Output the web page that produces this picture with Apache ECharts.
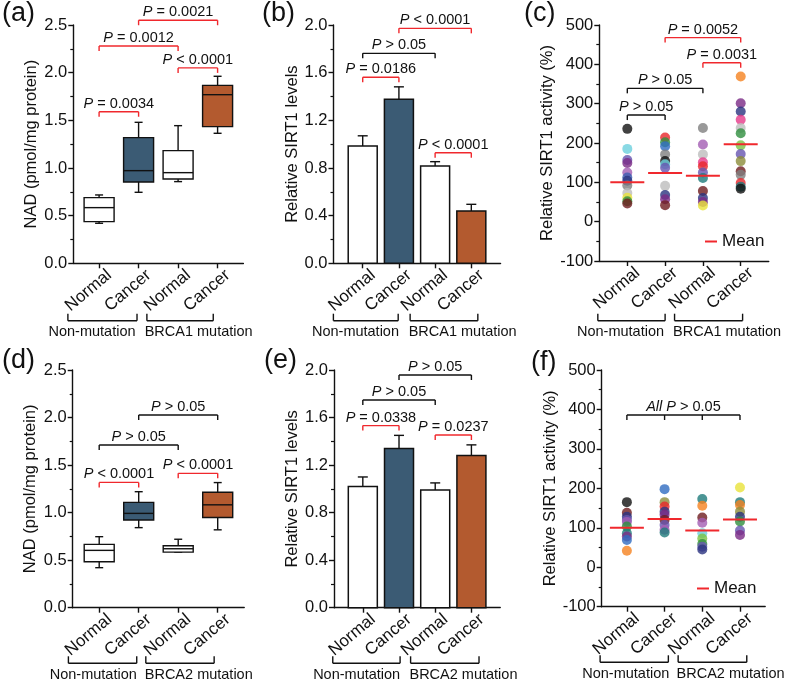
<!DOCTYPE html>
<html><head><meta charset="utf-8">
<script src="https://cdn.jsdelivr.net/npm/echarts@6/dist/echarts.min.js"></script>
<style>html,body{margin:0;padding:0;background:#fff}#c{width:790px;height:687px}</style>
</head><body><div id="c"></div>
<script>
// ---------- data ----------
const categories = ['Normal', 'Cancer', 'Normal', 'Cancer'];
const groupsBRCA1 = ['Non-mutation', 'BRCA1 mutation'];
const groupsBRCA2 = ['Non-mutation', 'BRCA2 mutation'];

// NAD box plots: [min, Q1, median, Q3, max]
const nadBRCA1 = [
  [0.42, 0.437, 0.584, 0.689, 0.717],
  [0.745, 0.853, 0.972, 1.318, 1.479],
  [0.857, 0.885, 0.951, 1.182, 1.444],
  [1.364, 1.434, 1.769, 1.867, 1.962]
];
const nadBRCA2 = [
  [0.421, 0.484, 0.603, 0.666, 0.747],
  [0.842, 0.922, 0.992, 1.108, 1.22],
  [0.585, 0.585, 0.62, 0.651, 0.72],
  [0.819, 0.949, 1.082, 1.215, 1.316]
];

// SIRT1 levels (mean, error)
const sirtBRCA1 = [0.985, 1.376, 0.817, 0.439];
const sirtBRCA1Err = [0.085, 0.105, 0.036, 0.056];
const sirtBRCA2 = [1.02, 1.34, 0.99, 1.28];
const sirtBRCA2Err = [0.08, 0.11, 0.06, 0.09];

// SIRT1 activity points (%)
const actBRCA1 = [
  [236, 185, 157, 149, 125, 112, 104, 92, 73, 61, 52, 46],
  [214, 202, 192, 171, 154, 146, 137, 91, 68, 57, 42],
  [238, 196, 171, 151, 141, 125, 111, 78, 60, 50, 41],
  [369, 301, 280, 259, 238, 225, 194, 172, 154, 128, 119, 98, 89, 84]
];
const actBRCA1Means = [100, 124, 117, 197];
const actBRCA2 = [
  [165, 138, 128, 120, 115, 103, 86, 78, 69, 42],
  [198, 165, 154, 141, 133, 120, 107, 95, 88],
  [173, 156, 126, 113, 86, 73, 59, 52, 45],
  [202, 165, 158, 141, 128, 116, 93, 82]
];
const actBRCA2Means = [100, 122, 93, 121];

// significance annotations: [from, to, y, label, colour]
const sigA = [[1, 2, 1.59, '{i|P} = 0.0034', 'r'], [1, 3, 2.28, '{i|P} = 0.0012', 'r'], [3, 4, 2.05, '{i|P} < 0.0001', 'r'], [2, 4, 2.55, '{i|P} = 0.0021', 'r']];
const sigB = [[1, 2, 1.561, '{i|P} = 0.0186', 'r'], [1, 3, 1.762, '{i|P} > 0.05', 'k'], [2, 4, 1.972, '{i|P} < 0.0001', 'r'], [3, 4, 0.928, '{i|P} < 0.0001', 'r']];
const sigC = [[1, 2, 271, '{i|P} > 0.05', 'k'], [1, 3, 339, '{i|P} > 0.05', 'k'], [3, 4, 404, '{i|P} = 0.0031', 'r'], [2, 4, 468, '{i|P} = 0.0052', 'r']];
const sigD = [[1, 2, 1.318, '{i|P} < 0.0001', 'r'], [1, 3, 1.711, '{i|P} > 0.05', 'k'], [2, 4, 2.027, '{i|P} > 0.05', 'k'], [3, 4, 1.413, '{i|P} < 0.0001', 'r']];
const sigE = [[1, 2, 1.532, '{i|P} = 0.0338', 'r'], [1, 3, 1.748, '{i|P} > 0.05', 'k'], [2, 4, 1.958, '{i|P} > 0.05', 'k'], [3, 4, 1.453, '{i|P} = 0.0237', 'r']];
const sigF = [[1, 4, 386, '{i|All P} > 0.05', 'k', [1, 2, 3, 4]]];

// ---------- styles ----------
const FONT = "'Liberation Sans', Arial, sans-serif";
const RED = '#F0282D';
const INK = '#111';
const TXT = '#111';
const BLUE = '#3B5B74';
const ORANGE = '#B35A2F';
const fills = ['#ffffff', BLUE, '#ffffff', ORANGE];
const ptColC = [
  ['#111111', '#6CCFDD', '#6655B0', '#7A2B86', '#A35DB3', '#3C5CB0', '#2B3380', '#7F7F7F', '#BDBDBD', '#E8E23A', '#2F8F3F', '#6E1B1E'],
  ['#E8262A', '#2F8F3F', '#2F6CC0', '#7F7F7F', '#111111', '#6CCFDD', '#6655B0', '#BDBDBD', '#2B3380', '#7A2B86', '#6E1B1E'],
  ['#7F7F7F', '#A35DB3', '#BDBDBD', '#E6398A', '#E8262A', '#6655B0', '#1E7B7B', '#6E1B1E', '#2B3380', '#7A2B86', '#E8E23A'],
  ['#F5821F', '#7A2B86', '#2B3380', '#E6398A', '#BDBDBD', '#2F8F3F', '#7CC242', '#6655B0', '#8C8C3A', '#6E1B1E', '#7F7F7F', '#E8262A', '#1E7B7B', '#111111']
];
const ptColF = [
  ['#111111', '#6E1B1E', '#2B3380', '#6655B0', '#A35DB3', '#2F8F3F', '#1E7B7B', '#7A2B86', '#2F6CC0', '#F5821F'],
  ['#2F6CC0', '#8C8C3A', '#E8262A', '#2B3380', '#7A2B86', '#6E1B1E', '#6655B0', '#A35DB3', '#1E7B7B'],
  ['#1E7B7B', '#F5821F', '#6E1B1E', '#A35DB3', '#6CCFDD', '#7CC242', '#2F8F3F', '#6655B0', '#2B3380'],
  ['#E8E23A', '#1E7B7B', '#F5821F', '#8C8C3A', '#2B3380', '#2F8F3F', '#6655B0', '#7A2B86']
];

// ---------- layout ----------
const panels = [
  {L: '(a)', lx: 2, ly: 16, left: 73.3, top: 25, h: 238.3, sp: 39.5, xmin: 0.347, xmax: 4.653, ymin: 0, ymax: 2.5, step: 0.5, dec: 1,
   name: 'NAD (pmol/mg protein)', gap: 33, sig: sigA, groups: groupsBRCA1, gb: [[0.21, 1.96], [2.21, 3.89]], gt: [0.82, 3.52], gy: 57.4},
  {L: '(b)', lx: 262, ly: 16, left: 333.5, top: 25, h: 238.3, sp: 36.2, xmin: 0.193, xmax: 4.807, ymin: 0, ymax: 2.0, step: 0.4, dec: 1,
   name: 'Relative SIRT1 levels', gap: 30, sig: sigB, groups: groupsBRCA1, gb: [[0.19, 1.98], [2.31, 4.18]], gt: [0.80, 3.76], gy: 57.4},
  {L: '(c)', lx: 524, ly: 16, left: 599.3, top: 25, h: 236, sp: 37.8, xmin: 0.259, xmax: 4.741, ymin: -100, ymax: 500, step: 100, dec: 0,
   name: 'Relative SIRT1 activity (%)', gap: 35.5, sig: sigC, groups: groupsBRCA1, gb: [[0.22, 2.0], [2.25, 4.05]], gt: [0.82, 3.64], gy: 59.7,
   legend: {left: 705, top: 233}},
  {L: '(d)', lx: 2, ly: 363, left: 72.7, top: 370, h: 237.7, sp: 39.5, xmin: 0.329, xmax: 4.671, ymin: 0, ymax: 2.5, step: 0.5, dec: 1,
   name: 'NAD (pmol/mg protein)', gap: 34, sig: sigD, groups: groupsBRCA2, gb: [[0.22, 1.95], [2.18, 3.91]], gt: [0.85, 3.52], gy: 55.6},
  {L: '(e)', lx: 264, ly: 363, left: 334, top: 370, h: 237.7, sp: 36.2, xmin: 0.204, xmax: 4.796, ymin: 0, ymax: 2.0, step: 0.4, dec: 1,
   name: 'Relative SIRT1 levels', gap: 30.5, sig: sigE, groups: groupsBRCA2, gb: [[0.17, 2.03], [2.32, 4.21]], gt: [0.83, 3.78], gy: 55.6},
  {L: '(f)', lx: 531, ly: 365, left: 601.7, top: 370, h: 236.7, sp: 37.7, xmin: 0.332, xmax: 4.668, ymin: -100, ymax: 500, step: 100, dec: 0,
   name: 'Relative SIRT1 activity (%)', gap: 37.5, sig: sigF, groups: groupsBRCA2, gb: [[0.29, 2.10], [2.36, 4.18]], gt: [0.97, 3.75], gy: 55.6,
   legend: {left: 697, top: 580}}
];

const lineSt = c => ({stroke: c, lineWidth: 1.4});

function boxRender(params, api) {
  const x = api.value(0);
  const lo = api.coord([x, api.value(1)]), q1 = api.coord([x, api.value(2)]),
        md = api.coord([x, api.value(3)]), q3 = api.coord([x, api.value(4)]), hi = api.coord([x, api.value(5)]);
  const cx = lo[0], hw = 15, cw = 4;
  return {type: 'group', children: [
    {type: 'line', shape: {x1: cx, y1: hi[1], x2: cx, y2: q3[1]}, style: lineSt(INK)},
    {type: 'line', shape: {x1: cx, y1: q1[1], x2: cx, y2: lo[1]}, style: lineSt(INK)},
    {type: 'line', shape: {x1: cx - cw, y1: hi[1], x2: cx + cw, y2: hi[1]}, style: lineSt(INK)},
    {type: 'line', shape: {x1: cx - cw, y1: lo[1], x2: cx + cw, y2: lo[1]}, style: lineSt(INK)},
    {type: 'rect', shape: {x: cx - hw, y: q3[1], width: 2 * hw, height: Math.max(q1[1] - q3[1], 1)},
     style: {fill: fills[params.dataIndex], stroke: INK, lineWidth: 1.4}},
    {type: 'line', shape: {x1: cx - hw, y1: md[1], x2: cx + hw, y2: md[1]}, style: lineSt(INK)}
  ]};
}

function barRender(params, api) {
  const x = api.value(0), m = api.value(1), e = api.value(2);
  const base = api.coord([x, 0]), top = api.coord([x, m]), et = api.coord([x, m + e]);
  const cx = base[0], hw = 14.5, cw = 5;
  return {type: 'group', children: [
    {type: 'line', shape: {x1: cx, y1: top[1], x2: cx, y2: et[1]}, style: lineSt(INK)},
    {type: 'line', shape: {x1: cx - cw, y1: et[1], x2: cx + cw, y2: et[1]}, style: lineSt(INK)},
    {type: 'rect', shape: {x: cx - hw, y: top[1], width: 2 * hw, height: base[1] - top[1]},
     style: {fill: fills[params.dataIndex], stroke: INK, lineWidth: 1.5}}
  ]};
}

function meanRender(params, api) {
  const p = api.coord([api.value(0), api.value(1)]);
  return {type: 'line', shape: {x1: p[0] - 17, y1: p[1], x2: p[0] + 17, y2: p[1]}, style: {stroke: RED, lineWidth: 2}};
}

function annotRender(P) {
  return function (params, api) {
    const ch = [];
    P.sig.forEach(s => {
      const col = s[4] === 'r' ? RED : INK;
      const p1 = api.coord([s[0], s[2]]), p2 = api.coord([s[1], s[2]]);
      ch.push({type: 'line', shape: {x1: p1[0], y1: p1[1], x2: p2[0], y2: p2[1]}, style: lineSt(col)});
      (s[5] || [s[0], s[1]]).forEach(t => {
        const q = api.coord([t, s[2]]);
        ch.push({type: 'line', shape: {x1: q[0], y1: q[1], x2: q[0], y2: q[1] + 5}, style: lineSt(col)});
      });
      ch.push({type: 'text', x: (p1[0] + p2[0]) / 2, y: p1[1] - 8,
        style: {text: s[3], fill: TXT, fontSize: 14.5, fontFamily: FONT, align: 'center', verticalAlign: 'middle',
                rich: {i: {fontStyle: 'italic', fontSize: 14.5, fontFamily: FONT, fill: TXT}}}});
    });
    const base = api.coord([P.xmin, P.ymin])[1];
    P.gb.forEach(r => {
      const a = api.coord([r[0], P.ymin])[0], b = api.coord([r[1], P.ymin])[0], y = base + P.gy;
      ch.push({type: 'line', shape: {x1: a, y1: y, x2: b, y2: y}, style: lineSt(INK)});
      ch.push({type: 'line', shape: {x1: a, y1: y, x2: a, y2: y - 7}, style: lineSt(INK)});
      ch.push({type: 'line', shape: {x1: b, y1: y, x2: b, y2: y - 7}, style: lineSt(INK)});
    });
    P.gt.forEach((gx, k) => {
      const x = api.coord([gx, P.ymin])[0];
      ch.push({type: 'text', x: x, y: base + P.gy + 11.5,
        style: {text: P.groups[k], fill: TXT, fontSize: 14.5, fontFamily: FONT, align: 'center', verticalAlign: 'middle'}});
    });
    return {type: 'group', children: ch};
  };
}

const grid = [], xAxis = [], yAxis = [], series = [], graphic = [], legend = [];
panels.forEach((P, i) => {
  grid.push({left: P.left, top: P.top, width: (P.xmax - P.xmin) * P.sp, height: P.h, outerBoundsMode: 'none'});
  xAxis.push({type: 'value', gridIndex: i, min: P.xmin, max: P.xmax,
    axisLine: {show: true, onZero: false, lineStyle: {color: INK, width: 1.4}},
    axisTick: {show: true, customValues: [1, 2, 3, 4], length: 5, lineStyle: {color: INK, width: 1.4}},
    axisLabel: {show: true, customValues: [1, 2, 3, 4], formatter: v => categories[Math.round(v) - 1] || '',
      rotate: 40, align: 'right', verticalAlign: 'top', margin: 2, padding: [4, -3, 0, 0],
      fontSize: 17, color: TXT, fontFamily: FONT},
    splitLine: {show: false}});
  yAxis.push({type: 'value', gridIndex: i, min: P.ymin, max: P.ymax, interval: P.step,
    axisLine: {show: true, onZero: false, lineStyle: {color: INK, width: 1.4}},
    axisTick: {show: true, length: 5, lineStyle: {color: INK, width: 1.4}},
    minorTick: {show: true, splitNumber: 2, length: 3, lineStyle: {color: INK, width: 1.2}},
    splitLine: {show: false},
    axisLabel: {fontSize: 16.5, color: TXT, fontFamily: FONT, margin: 6, formatter: v => v.toFixed(P.dec)},
    name: P.name, nameLocation: 'middle', nameGap: P.gap,
    nameTextStyle: {fontSize: 16.5, color: TXT, fontFamily: FONT}});
  graphic.push({type: 'text', left: P.lx, top: P.ly - 16, style: {text: P.L, fontSize: 27, fill: TXT, fontFamily: FONT}});
  if (P.legend) {
    legend.push({left: P.legend.left, top: P.legend.top, padding: 0, itemWidth: 12, itemHeight: 2, selectedMode: false,
      data: [{name: 'Mean', icon: 'rect'}], textStyle: {fontSize: 17, color: TXT, fontFamily: FONT}});
  }
});

// (a)/(d) box plots
[[0, nadBRCA1], [3, nadBRCA2]].forEach(([g, d]) => {
  series.push({type: 'custom', xAxisIndex: g, yAxisIndex: g, renderItem: boxRender, clip: false,
    encode: {x: 0, y: [1, 2, 3, 4, 5]}, data: d.map((r, k) => [k + 1].concat(r))});
});
// (b)/(e) bars with error bars
[[1, sirtBRCA1, sirtBRCA1Err], [4, sirtBRCA2, sirtBRCA2Err]].forEach(([g, m, e]) => {
  series.push({type: 'custom', xAxisIndex: g, yAxisIndex: g, renderItem: barRender, clip: false,
    encode: {x: 0, y: [1, 2]}, data: m.map((v, k) => [k + 1, v, e[k]])});
});
// (c)/(f) scatter + means
[[2, actBRCA1, ptColC, actBRCA1Means], [5, actBRCA2, ptColF, actBRCA2Means]].forEach(([g, d, cols, means]) => {
  const pts = [];
  d.forEach((grp, k) => grp.forEach((v, j) => pts.push({value: [k + 1, v], itemStyle: {color: cols[k][j]}})));
  series.push({type: 'scatter', xAxisIndex: g, yAxisIndex: g, symbolSize: 10, data: pts, z: 2});
  series.push({type: 'custom', name: 'Mean', xAxisIndex: g, yAxisIndex: g, renderItem: meanRender, z: 3,
    itemStyle: {color: RED}, encode: {x: 0, y: 1}, data: means.map((v, k) => [k + 1, v])});
});
// annotations
panels.forEach((P, i) => {
  series.push({type: 'custom', xAxisIndex: i, yAxisIndex: i, renderItem: annotRender(P), clip: false, silent: true,
    data: [[P.xmin, P.ymin]], encode: {x: 0, y: 1}});
});

const chart = echarts.init(document.getElementById('c'), null, {renderer: 'canvas'});
chart.setOption({animation: false, backgroundColor: '#fff', grid, xAxis, yAxis, series, graphic, legend});
</script>
</body></html>
